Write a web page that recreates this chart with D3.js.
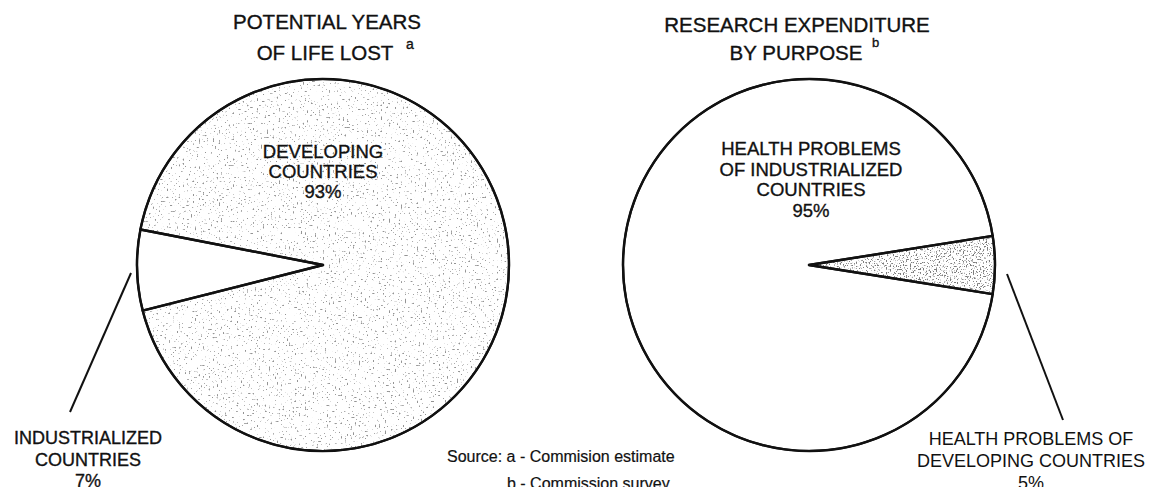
<!DOCTYPE html>
<html>
<head>
<meta charset="utf-8">
<script src="https://cdn.jsdelivr.net/npm/d3@7.9.0/dist/d3.min.js"></script>
<style>
  html, body { margin: 0; padding: 0; background: #fff; }
  svg text { font-family: "Liberation Sans", Arial, Helvetica, sans-serif; fill: #111; }
  svg text.heavy { stroke: #111; stroke-width: 0.35; }
</style>
</head>
<body>
<svg id="chart" width="1150" height="487"></svg>
<script>
// data
const lossLabels = ["DEVELOPING COUNTRIES", "INDUSTRIALIZED COUNTRIES"];
const lossValues = [93, 7];
const spendLabels = ["HEALTH PROBLEMS OF INDUSTRIALIZED COUNTRIES", "HEALTH PROBLEMS OF DEVELOPING COUNTRIES"];
const spendValues = [95, 5];
const sourceNotes = ["Source: a - Commision estimate", "b - Commission survey"];

const svg = d3.select("#chart");
const deg = Math.PI / 180;
const radius = 186;

// stipple textures
const defs = svg.append("defs");
function stipple(id, freq, gain, cut, seed, grey) {
  const f = defs.append("filter").attr("id", id)
    .attr("x", "-5%").attr("y", "-5%").attr("width", "110%").attr("height", "110%");
  f.append("feTurbulence").attr("type", "fractalNoise")
    .attr("baseFrequency", freq).attr("numOctaves", 1).attr("seed", seed).attr("result", "noise");
  f.append("feColorMatrix").attr("in", "noise").attr("type", "matrix")
    .attr("values", `0 0 0 0 ${grey}  0 0 0 0 ${grey}  0 0 0 0 ${grey}  ${gain} 0 0 0 ${-cut}`)
    .attr("result", "dots");
  f.append("feComposite").attr("in", "dots").attr("in2", "SourceGraphic").attr("operator", "in");
}
stipple("stipLight", 0.5, 12, 7.9, 4, 0.3);
stipple("stipDense", 0.7, 10, 5.6, 9, 0.2);

function drawPie(cfg) {
  const g = svg.append("g").attr("transform", `translate(${cfg.cx},${cfg.cy})`);
  const pie = d3.pie().sort(null)
    .startAngle(cfg.start * deg).endAngle(cfg.start * deg + 2 * Math.PI);
  const arc = d3.arc().innerRadius(0).outerRadius(radius);
  const arcs = pie(cfg.values);

  g.selectAll("path.base").data(arcs).join("path")
    .attr("class", "base").attr("d", arc).attr("fill", "#fff");

  g.selectAll("path.dots").data(arcs.filter((d, i) => cfg.dotted[i])).join("path")
    .attr("class", "dots").attr("d", arc).attr("fill", "#000")
    .attr("filter", d => `url(#${cfg.dotted[d.index]})`);

  // slice edges
  g.selectAll("path.edge").data(arcs).join("path")
    .attr("class", "edge").attr("d", arc).attr("fill", "none")
    .attr("stroke", "#111").attr("stroke-width", 2.4).attr("stroke-linejoin", "round");

  g.append("circle").attr("r", radius).attr("fill", "none")
    .attr("stroke", "#111").attr("stroke-width", 2.2);
}

drawPie({ cx: 323, cy: 265, start: 281, values: lossValues, dotted: ["stipLight", null] });
drawPie({ cx: 809, cy: 265, start: 99, values: spendValues, dotted: [null, "stipDense"] });

// leader lines
const leaders = [[131, 273, 70, 412], [1007, 274, 1063, 420]];
svg.selectAll("line.leader").data(leaders).join("line")
  .attr("x1", d => d[0]).attr("y1", d => d[1]).attr("x2", d => d[2]).attr("y2", d => d[3])
  .attr("stroke", "#111").attr("stroke-width", 2);

function block(x, y, lines, size, gap, cls) {
  const t = svg.append("text").attr("text-anchor", "middle").attr("font-size", size)
    .attr("class", cls || "heavy");
  lines.forEach((s, i) => t.append("tspan").attr("x", x).attr("y", y + i * gap).text(s));
  return t;
}

// titles
block(327, 29, ["POTENTIAL YEARS"], 20.5, 0);
block(325, 60, ["OF LIFE LOST"], 20.5, 0);
svg.append("text").attr("x", 406).attr("y", 49).attr("font-size", 14).attr("class", "heavy").text("a");
block(797, 32, ["RESEARCH EXPENDITURE"], 20.5, 0);
block(796, 60, ["BY PURPOSE"], 20.5, 0);
svg.append("text").attr("x", 872).attr("y", 47).attr("font-size", 13).attr("class", "heavy").text("b");

// slice labels
block(323, 158, ["DEVELOPING", "COUNTRIES", lossValues[0] + "%"], 18.5, 20);
block(811, 155, ["HEALTH PROBLEMS", "OF INDUSTRIALIZED", "COUNTRIES", spendValues[0] + "%"], 18.5, 20.5);
block(88, 444, ["INDUSTRIALIZED", "COUNTRIES", lossValues[1] + "%"], 18, 21.5);
block(1031, 445, ["HEALTH PROBLEMS OF", "DEVELOPING COUNTRIES", spendValues[1] + "%"], 18, 22, "light");

// source
svg.append("text").attr("x", 447).attr("y", 462).attr("font-size", 16).attr("class", "heavy")
  .style("stroke-width", 0.2).text(sourceNotes[0]);
svg.append("text").attr("x", 507).attr("y", 489).attr("font-size", 16).attr("class", "heavy")
  .style("stroke-width", 0.2).text(sourceNotes[1]);
</script>
</body>
</html>
